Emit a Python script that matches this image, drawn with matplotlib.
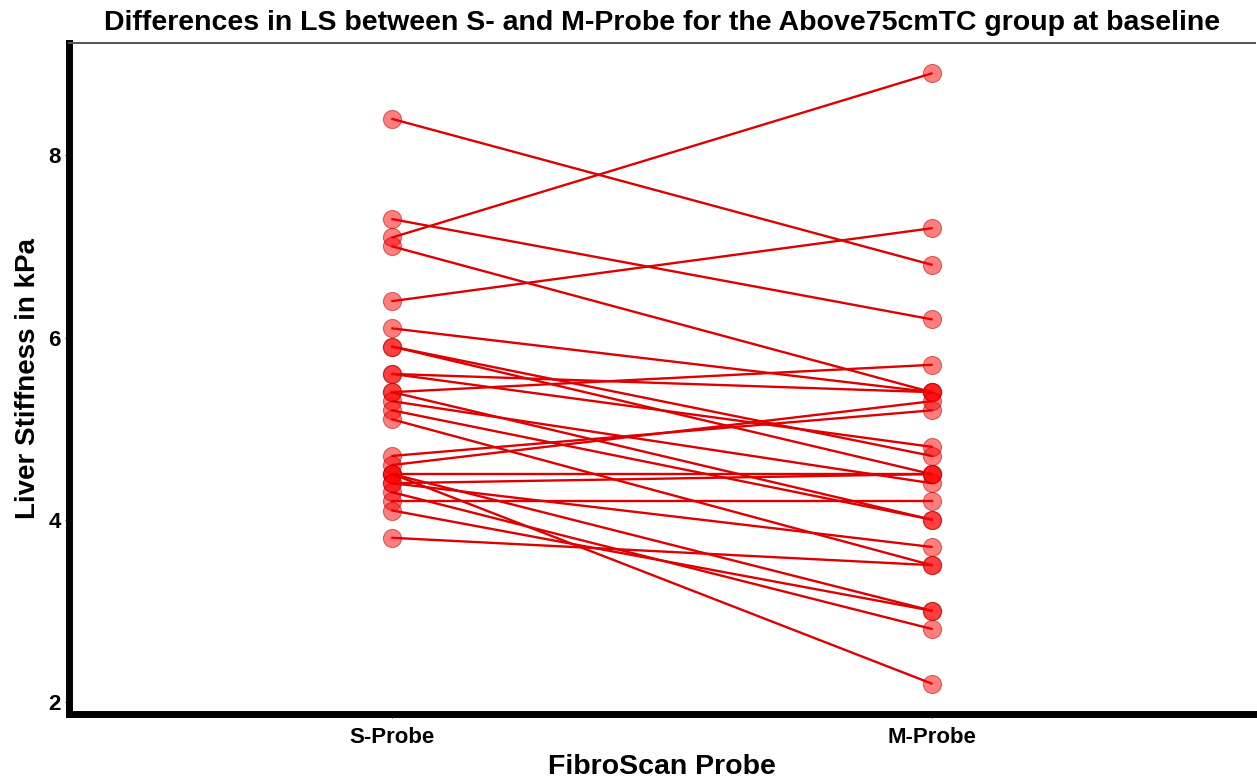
import matplotlib
matplotlib.use('Agg')
import matplotlib.pyplot as plt

# paired liver stiffness readings (kPa), one entry per subject
s_probe = [8.4, 7.3, 7.1, 7.0, 6.4, 6.1, 5.9, 5.9, 5.6, 5.6, 5.4, 5.4, 5.3,
           5.2, 5.1, 4.7, 4.6, 4.5, 4.5, 4.5, 4.4, 4.4, 4.3, 4.2, 4.1, 3.8]
m_probe = [6.8, 6.2, 8.9, 5.4, 7.2, 5.4, 4.5, 4.7, 4.8, 5.4, 5.7, 4.0, 4.4,
           4.0, 3.5, 5.2, 5.3, 2.2, 4.5, 3.0, 4.5, 3.7, 2.8, 4.2, 3.0, 3.5]
probes = ['S-Probe', 'M-Probe']
y_ticks = [2, 4, 6, 8]

plt.rcParams['font.family'] = ['Liberation Sans', 'DejaVu Sans']

fig = plt.figure(figsize=(12.57, 7.8), dpi=100)
ax = fig.add_axes([0.0549, 0.0846, 0.9435, 0.8603])

xs = [0, 1]
for s, m in zip(s_probe, m_probe):
  ax.plot(xs, [s, m], color='#dd0000', linewidth=1.7, zorder=2)
  ax.scatter(xs, [s, m], s=170, color='red', alpha=0.5,
             edgecolors='#b00000', linewidths=0.8, zorder=3)

# ggplot-like 5% expansion of the data range
lo = min(s_probe + m_probe)
hi = max(s_probe + m_probe)
pad = (hi - lo) * 0.05
ax.set_ylim(lo - pad, hi + pad)
ax.set_xlim(-0.6, 1.6)
ax.set_xticks(xs)
ax.set_xticklabels(probes)
ax.set_yticks(y_ticks)

for lbl in ax.get_xticklabels() + ax.get_yticklabels():
  lbl.set_fontweight('bold')
  lbl.set_fontsize(16)
  lbl.set_color('black')

ax.tick_params(axis='x', length=3, width=0.8, color='#444444', pad=6)
ax.tick_params(axis='y', length=3, width=0.8, color='#444444', pad=3)

ax.spines['left'].set_linewidth(5)
ax.spines['bottom'].set_linewidth(5)
ax.spines['left'].set_color('black')
ax.spines['bottom'].set_color('black')
ax.spines['top'].set_linewidth(1.4)
ax.spines['top'].set_color('#555555')
ax.spines['right'].set_visible(False)

ax.set_xlabel('FibroScan Probe', fontsize=20.5, fontweight='bold', labelpad=5)
ax.set_ylabel('Liver Stiffness in kPa', fontsize=20, fontweight='bold', labelpad=5)
ax.set_title('Differences in LS between S- and M-Probe for the Above75cmTC group at baseline',
             fontsize=20.5, fontweight='bold', pad=9)

fig.savefig('out.png', dpi=100)
